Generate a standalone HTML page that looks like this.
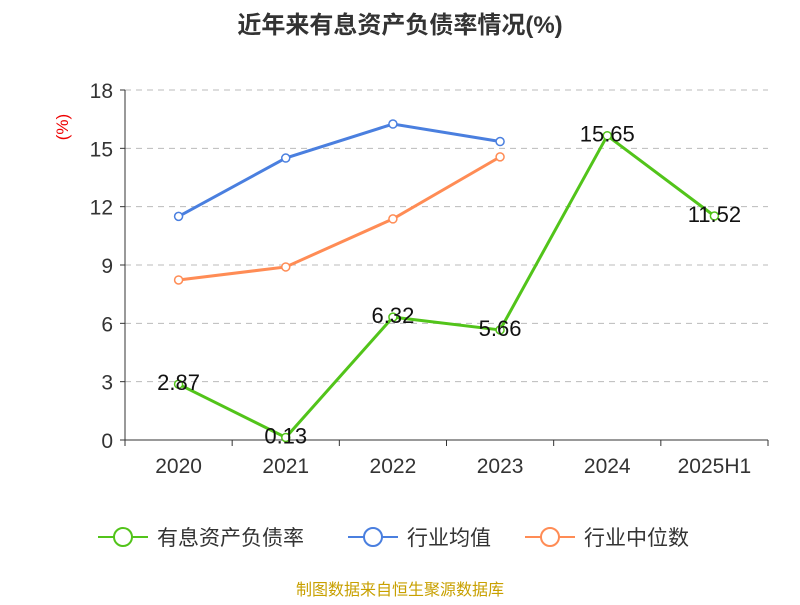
<!DOCTYPE html>
<html><head><meta charset="utf-8"><style>
body{margin:0;background:#fff;}
svg text{font-family:"Liberation Sans","Noto Sans CJK SC",sans-serif;}
</style></head><body>
<svg id="c" width="800" height="600" xmlns="http://www.w3.org/2000/svg">
<text x="400" y="33" text-anchor="middle" font-size="24" font-weight="bold" fill="#333">近年来有息资产负债率情况(%)</text>
<text x="68" y="127" text-anchor="middle" font-size="17" fill="#e00" transform="rotate(-90 68 127)">(%)</text>
<g id="grid"></g><g id="axes"></g><g id="series"></g>
<g>
<g><line x1="98" y1="537" x2="148" y2="537" stroke="#52c41a" stroke-width="2"/><circle cx="123" cy="537" r="9" fill="#fff" stroke="#52c41a" stroke-width="2"/><text x="157" y="545" font-size="21" fill="#333">有息资产负债率</text></g>
<g><line x1="348" y1="537" x2="398" y2="537" stroke="#4a7fdf" stroke-width="2"/><circle cx="373" cy="537" r="9" fill="#fff" stroke="#4a7fdf" stroke-width="2"/><text x="407" y="545" font-size="21" fill="#333">行业均值</text></g>
<g><line x1="525" y1="537" x2="575" y2="537" stroke="#ff8c55" stroke-width="2"/><circle cx="550" cy="537" r="9" fill="#fff" stroke="#ff8c55" stroke-width="2"/><text x="584" y="545" font-size="21" fill="#333">行业中位数</text></g>
</g>
<text x="400" y="595" text-anchor="middle" font-size="16" fill="#c8a000">制图数据来自恒生聚源数据库</text>
</svg>
<script>
const categories=["2020","2021","2022","2023","2024","2025H1"];
const debtRatio=[2.87,0.13,6.32,5.66,15.65,11.52];
const industryAvg=[11.5,14.5,16.25,15.35,null,null];
const industryMedian=[8.23,8.9,11.37,14.56,null,null];
const yTicks=[0,3,6,9,12,15,18];
const NS="http://www.w3.org/2000/svg";
const x0=125,x1=768,y0=440,y1=90;
const bw=(x1-x0)/categories.length;
const X=i=>x0+bw*(i+0.5);
const Y=v=>y0-(v/18)*(y0-y1);
function mk(t,a,p){const e=document.createElementNS(NS,t);for(const k in a)e.setAttribute(k,a[k]);p.appendChild(e);return e;}
const grid=document.getElementById('grid'),axes=document.getElementById('axes'),ser=document.getElementById('series');
yTicks.forEach(v=>{
 if(v>0){const g=mk('line',{x1:x0,x2:x1,y1:Y(v),y2:Y(v),stroke:'#bbb','stroke-dasharray':'6,5'},grid);
 
 }
 const t=mk('text',{x:x0-12,y:Y(v)+8,'text-anchor':'end','font-size':21,fill:'#333'},axes);t.textContent=v;
 
 
 mk('line',{x1:x0-5,x2:x0,y1:Y(v),y2:Y(v),stroke:'#333'},axes);
});
const ya=mk('line',{x1:x0,x2:x0,y1:y1,y2:y0,stroke:'#333'},axes);


const xa=mk('line',{x1:x0,x2:x1,y1:y0,y2:y0,stroke:'#333'},axes);


for(let i=0;i<=categories.length;i++)mk('line',{x1:x0+bw*i,x2:x0+bw*i,y1:y0,y2:y0+6,stroke:'#333'},axes);
categories.forEach((c,i)=>{const t=mk('text',{x:X(i),y:y0+33,'text-anchor':'middle','font-size':21,fill:'#333'},axes);t.textContent=c;
 
 });
function draw(vals,color,name,labels){
 const pts=[];vals.forEach((v,i)=>{if(v!=null)pts.push([X(i),Y(v),v]);});
 const pl=mk('polyline',{points:pts.map(p=>p[0]+','+p[1]).join(' '),fill:'none',stroke:color,'stroke-width':3},ser);
 
 
 pts.forEach(p=>{const c=mk('circle',{cx:p[0],cy:p[1],r:4,fill:'#fff',stroke:color,'stroke-width':1.5},ser);
  
  
  if(labels){const t=mk('text',{x:p[0],y:p[1]+6,'text-anchor':'middle','font-size':22,fill:'#111'},ser);t.textContent=p[2].toFixed(2);
   
   }
 });
}
draw(industryAvg,'#4a7fdf','industry-avg',false);
draw(industryMedian,'#ff8c55','industry-median',false);
draw(debtRatio,'#52c41a','debt-ratio',true);
</script>
</body></html>
